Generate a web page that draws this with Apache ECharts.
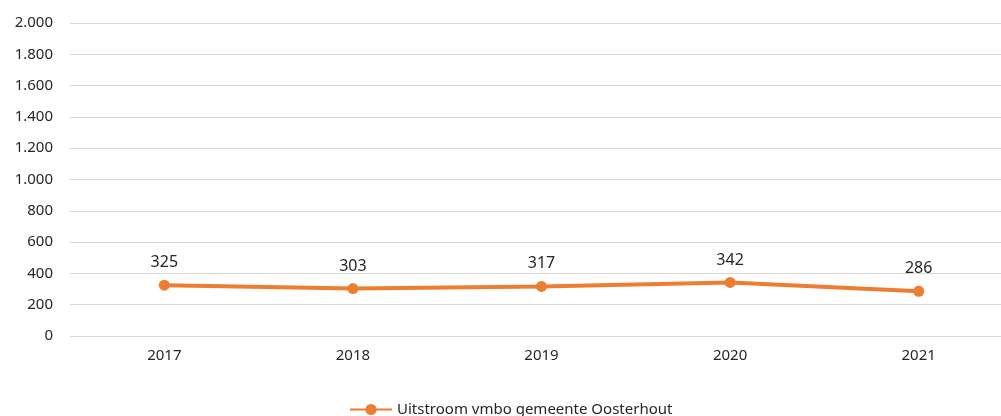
<!DOCTYPE html>
<html>
<head>
<meta charset="utf-8">
<script src="https://cdn.jsdelivr.net/npm/echarts@6/dist/echarts.min.js"></script>
<style>
  html, body { margin: 0; padding: 0; background: #fff; }
  #chart { width: 1001px; height: 416px; }
</style>
</head>
<body>
<div id="chart"></div>
<script>
const years = ['2017', '2018', '2019', '2020', '2021']
const uitstroom = [325, 303, 317, 342, 286]
const seriesName = 'Uitstroom vmbo gemeente Oosterhout'

const textColor = '#262626'
const fontFamily = '"Noto Sans", Lato, sans-serif'

const chart = echarts.init(document.getElementById('chart'))
chart.setOption({
  animation: false,
  textStyle: { fontFamily: fontFamily },
  grid: { left: 70, top: 23, width: 943, bottom: 80, containLabel: false, outerBoundsMode: 'none' },
  legend: {
    bottom: -6,
    left: 344,
    itemWidth: 42,
    itemHeight: 14,
    itemGap: 4,
    textStyle: { color: textColor, fontSize: 15, fontFamily: fontFamily },
    data: [seriesName]
  },
  xAxis: {
    type: 'category',
    data: years,
    axisLine: { show: false },
    axisTick: { show: false },
    axisLabel: { color: textColor, fontSize: 15, margin: 12 }
  },
  yAxis: {
    type: 'value',
    min: 0,
    max: 2000,
    interval: 200,
    axisLabel: {
      color: textColor,
      fontSize: 15,
      margin: 17,
      formatter: v => v.toLocaleString('nl-NL')
    },
    splitLine: { lineStyle: { color: '#d9d9d9', width: 1 } }
  },
  series: [
    {
      name: seriesName,
      type: 'line',
      data: uitstroom,
      color: '#ED7D31',
      lineStyle: { width: 4 },
      symbol: 'circle',
      symbolSize: 11,
      label: {
        show: true,
        position: 'top',
        distance: 9,
        color: textColor,
        fontSize: 16
      }
    }
  ]
})
</script>
</body>
</html>
